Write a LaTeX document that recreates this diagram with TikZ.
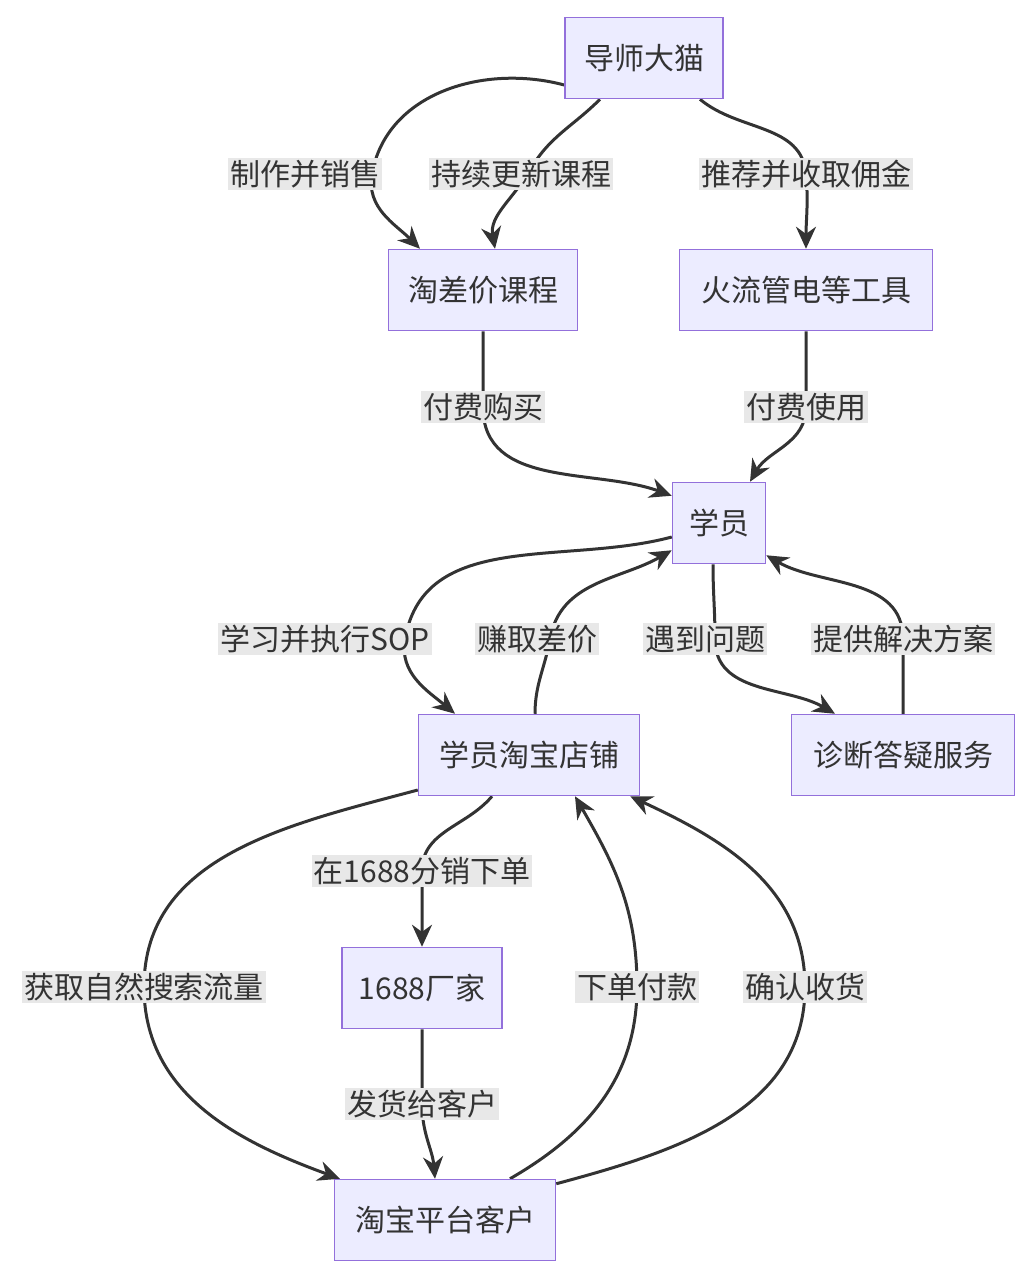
\documentclass[tikz,border=0pt]{standalone}
\usepackage{fontspec}
\setmainfont{Noto Sans CJK SC}
\usetikzlibrary{arrows.meta,backgrounds}
\definecolor{boxfill}{HTML}{ECECFF}
\definecolor{boxline}{HTML}{9370DB}
\definecolor{ink}{HTML}{333333}
\definecolor{lblfill}{HTML}{E8E8E8}
\tikzset{
  box/.style={draw=boxline, fill=boxfill, line width=1.5pt, minimum height=81pt,
    inner xsep=14pt, text=ink, font=\fontsize{30}{36}\selectfont},
  lbl/.style={fill=lblfill, inner sep=2pt, text=ink, font=\fontsize{30}{36}\selectfont},
  edge/.style={draw=ink, line width=3pt, -{Stealth[length=22pt,width=20pt]}}
}
\begin{document}
\begin{tikzpicture}[x=1pt,y=1pt]
	\useasboundingbox (0,0) rectangle (1032,-1278);

	% Boxes
	\node[box, minimum width=158pt] (dm) at (644,-58) {导师大猫};
	\node[box, minimum width=189pt] (kc) at (483,-290) {淘差价课程};
	\node[box, minimum width=253pt] (gj) at (806,-290) {火流管电等工具};
	\node[box, minimum width=93pt] (xy) at (719,-523) {学员};
	\node[box, minimum width=221pt] (dp) at (529,-755) {学员淘宝店铺};
	\node[box, minimum width=223pt] (zd) at (903,-755) {诊断答疑服务};
	\node[box, minimum width=160pt] (cj) at (422,-988) {1688厂家};
	\node[box, minimum width=221pt] (kh) at (445,-1220) {淘宝平台客户};

	% Labels
	\node[lbl] (l1) at (305,-174) {制作并销售};
	\node[lbl] (l2) at (521,-174) {持续更新课程};
	\node[lbl] (l3) at (806,-174) {推荐并收取佣金};
	\node[lbl] (l4) at (483,-407) {付费购买};
	\node[lbl] (l5) at (806,-407) {付费使用};
	\node[lbl] (l6) at (325,-639) {学习并执行SOP};
	\node[lbl] (l7) at (537,-639) {赚取差价};
	\node[lbl] (l8) at (705,-639) {遇到问题};
	\node[lbl] (l9) at (903,-639) {提供解决方案};
	\node[lbl] (l10) at (422,-871) {在1688分销下单};
	\node[lbl] (l11) at (144,-987) {获取自然搜索流量};
	\node[lbl] (l12) at (637,-987) {下单付款};
	\node[lbl] (l13) at (805,-987) {确认收货};
	\node[lbl] (l14) at (422,-1104) {发货给客户};

	% Via points of the curves
	\coordinate (v1) at (372,-174);
	\coordinate (v2) at (530,-170);
	\coordinate (v6) at (405,-639);
	\coordinate (v7) at (550,-639);
	\coordinate (v8) at (715,-639);

	% Draw connectors
	\begin{scope}[on background layer]
	\draw[edge] ([yshift=-27pt]dm.west) to[out=165,in=80] (v1) to[out=-100,in=135] ([xshift=-63pt]kc.north);
	\draw[edge] ([xshift=-44pt]dm.south) to[out=-135,in=60] (v2) to[out=-120,in=100] ([xshift=12pt]kc.north);
	\draw[edge] ([xshift=56pt]dm.south) to[out=-40,in=95] (l3.center) to[out=-85,in=90] (gj.north);
	\draw[edge] (kc.south) to[out=-90,in=90] (l4.center) to[out=-90,in=160] ([yshift=-14pt]xy.north west);
	\draw[edge] (gj.south) to[out=-90,in=90] (l5.center) to[out=-90,in=60] ([xshift=31pt]xy.north);
	\draw[edge] ([yshift=-14pt]xy.west) to[out=195,in=80] (v6) to[out=-100,in=140] ([xshift=-74pt]dp.north);
	\draw[edge] ([xshift=6pt]dp.north) to[out=90,in=-100] (v7) to[out=80,in=210] ([yshift=14pt]xy.south west);
	\draw[edge] ([xshift=-6pt]xy.south) to[out=-90,in=90] (v8) to[out=-90,in=150] ([xshift=-68pt]zd.north);
	\draw[edge] (zd.north) to[out=90,in=-90] (l9.center) to[out=90,in=-30] ([yshift=9pt]xy.south east);
	\draw[edge] ([xshift=-37pt]dp.south) to[out=-130,in=90] (l10.center) to[out=-90,in=90] (cj.north);
	\draw[edge] ([yshift=-35pt]dp.west) to[out=195,in=90] (l11.center) to[out=-90,in=160] ([xshift=-105pt]kh.north);
	\draw[edge] ([xshift=65pt]kh.north) to[out=30,in=-90] (l12.center) to[out=90,in=-60] ([xshift=46pt]dp.south);
	\draw[edge] ([yshift=-5pt]kh.north east) to[out=15,in=-90] (l13.center) to[out=90,in=-25] ([xshift=-10pt]dp.south east);
	\draw[edge] (cj.south) to[out=-90,in=90] (l14.center) to[out=-90,in=95] ([xshift=-10pt]kh.north);
	\end{scope}
\end{tikzpicture}
\end{document}
